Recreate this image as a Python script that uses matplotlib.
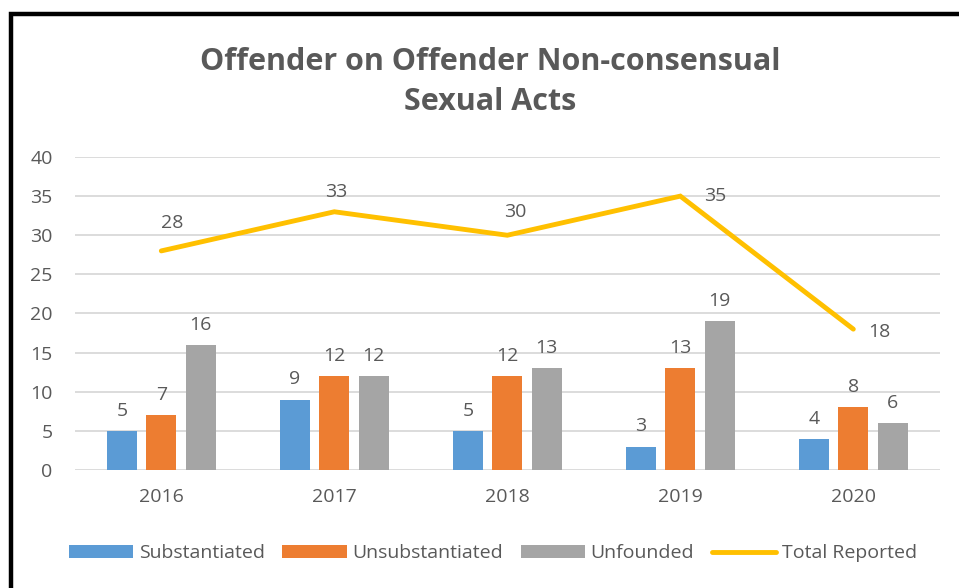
import numpy as np
import matplotlib.pyplot as plt
from matplotlib.patches import Rectangle

plt.rcParams['font.family'] = ['Open Sans', 'DejaVu Sans']

# Données
years = ['2016', '2017', '2018', '2019', '2020']
substantiated = [5, 9, 5, 3, 4]
unsubstantiated = [7, 12, 12, 13, 8]
unfounded = [16, 12, 13, 19, 6]
total_reported = [28, 33, 30, 35, 18]

text_color = '#595959'
c_blue = '#5B9BD5'
c_orange = '#ED7D31'
c_gray = '#A5A5A5'
c_yellow = '#FFC000'

fig = plt.figure(figsize=(9.59, 5.88), dpi=100)
ax = fig.add_axes([0.078, 0.2007, 0.902, 0.5323])

x = np.arange(len(years))
w = 0.174
step = 0.227

series = [(substantiated, c_blue, 'Substantiated'),
          (unsubstantiated, c_orange, 'Unsubstantiated'),
          (unfounded, c_gray, 'Unfounded')]
for k, (vals, col, lab) in enumerate(series):
    bars = ax.bar(x + (k - 1) * step, vals, w, color=col, label=lab, zorder=2)
    for b, v in zip(bars, vals):
        ax.annotate(str(v), (b.get_x() + b.get_width() / 2, v),
                    xytext=(0, 8), textcoords='offset points',
                    ha='center', va='bottom', fontsize=14, color=text_color)

ax.plot(x, total_reported, color=c_yellow, linewidth=3.5,
        solid_capstyle='round', solid_joinstyle='miter',
        label='Total Reported', zorder=3)

# positions des étiquettes de la courbe (en points)
offsets = [(8, 20), (1, 14), (6, 17), (25, 0), (19, -2)]
for xi, v, off in zip(x, total_reported, offsets):
    ax.annotate(str(v), (xi, v), xytext=off, textcoords='offset points',
                ha='center', va='center', fontsize=14, color=text_color)

ax.set_xlim(-0.5, 4.5)
ax.set_ylim(0, 40)
ax.set_yticks(range(0, 41, 5))
ax.set_xticks(x)
ax.set_xticklabels(years)
ax.tick_params(axis='both', length=0, labelsize=14, labelcolor=text_color)
ax.tick_params(axis='x', pad=13)
ax.tick_params(axis='y', pad=16)
ax.grid(axis='y', color='#D9D9D9', linewidth=1.3, zorder=0)
ax.set_axisbelow(True)
for s in ax.spines.values():
    s.set_visible(False)

fig.text(0.511, 0.861, 'Offender on Offender Non-consensual\nSexual Acts',
         ha='center', va='center', fontsize=22, fontweight='bold',
         color=text_color, linespacing=1.45)

handles, labels = ax.get_legend_handles_labels()
order = [1, 2, 3, 0]
leg = fig.legend([handles[i] for i in order], [labels[i] for i in order],
                 loc='center', bbox_to_anchor=(0.514, 0.059), ncol=4,
                 frameon=False, fontsize=14, handlelength=3.3,
                 handleheight=0.7, columnspacing=0.9, handletextpad=0.3)
for t in leg.get_texts():
    t.set_color(text_color)

# cadre noir
fig.patches.append(Rectangle((0.011, -0.1), 1.2, 1.076,
                             transform=fig.transFigure, fill=False,
                             edgecolor='black', linewidth=3.2))

plt.savefig('out.png', dpi=100)
